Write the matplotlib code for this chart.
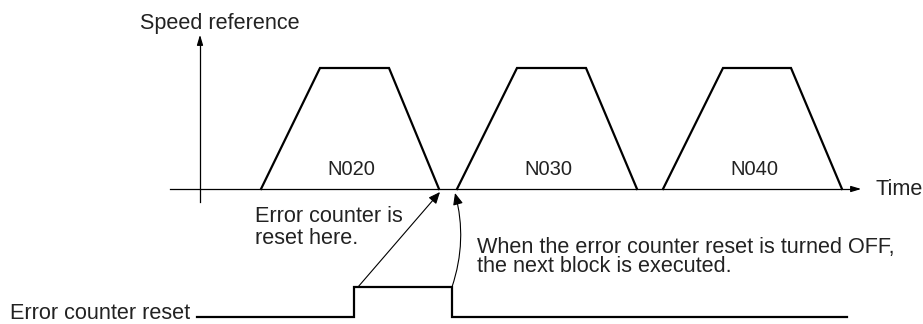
import matplotlib
matplotlib.use("Agg")
import matplotlib.pyplot as plt
from matplotlib.patches import FancyArrowPatch

plt.rcParams['font.family'] = ['Liberation Sans', 'DejaVu Sans']

# Speed profile (time in diagram units, speed as normalized level)
time_pts = [261, 320, 389, 439, 457, 517, 586, 637, 663, 723, 791, 842]
speed_lvl = [0, 1, 1, 0, 0, 1, 1, 0, 0, 1, 1, 0]
block_labels = ['N020', 'N030', 'N040']

# Error counter reset signal
reset_t = [197, 354, 354, 452, 452, 847]
reset_lvl = [0, 0, 1, 1, 0, 0]

TXT = '#222222'
FS = 15.6
W, H = 923, 324
fig = plt.figure(figsize=(W / 100, H / 100), dpi=100)
ax = fig.add_axes([0, 0, 1, 1])
ax.set_xlim(0, W)
ax.set_ylim(H, 0)
ax.axis('off')

base = 189
top = 68
amp = base - top

# axes
ax.plot([170, 855], [base, base], color='black', lw=0.9)
ax.annotate('', xy=(864, base), xytext=(850, base),
            arrowprops=dict(arrowstyle='-|>,head_length=0.6,head_width=0.18', color='black', lw=0.9))
ax.plot([200, 200], [202, 45], color='black', lw=0.9)
ax.annotate('', xy=(200, 32), xytext=(200, 46),
            arrowprops=dict(arrowstyle='-|>,head_length=0.6,head_width=0.18', color='black', lw=0.9))
ax.text(140, 29, 'Speed reference', fontsize=FS, color=TXT, va='baseline', ha='left')
ax.text(875, 195, 'Time', fontsize=FS, color=TXT, va='baseline', ha='left')

# trapezoids
for i in range(3):
    ts = time_pts[4 * i:4 * i + 4]
    ls = speed_lvl[4 * i:4 * i + 4]
    ys = [base - l * amp for l in ls]
    ax.plot(ts, ys, color='black', lw=1.6, solid_joinstyle='miter')
    cx = (ts[1] + ts[2]) / 2
    ax.text(cx - 3, 175, block_labels[i], fontsize=14.5, color=TXT, ha='center', va='baseline')

# reset signal
sig_low = 317
sig_high = 287
ax.plot(reset_t, [sig_low - l * (sig_low - sig_high) for l in reset_lvl],
        color='black', lw=1.6, solid_joinstyle='miter')
ax.text(190, 319, 'Error counter reset', fontsize=FS, color=TXT, ha='right', va='baseline')

# arrows
a1 = FancyArrowPatch((358, 287), (440, 192), arrowstyle='-|>,head_length=7,head_width=3',
                     color='black', lw=0.8, shrinkA=0, shrinkB=0)
ax.add_patch(a1)
a2 = FancyArrowPatch((452, 287), (455, 193), connectionstyle='arc3,rad=0.15',
                     arrowstyle='-|>,head_length=7,head_width=3',
                     color='black', lw=0.8, shrinkA=0, shrinkB=0)
ax.add_patch(a2)

ax.text(255, 222, 'Error counter is', fontsize=FS, color=TXT, ha='left', va='baseline')
ax.text(255, 244, 'reset here.', fontsize=FS, color=TXT, ha='left', va='baseline')
ax.text(477, 253, 'When the error counter reset is turned OFF,', fontsize=FS, color=TXT,
        ha='left', va='baseline')
ax.text(477, 272, 'the next block is executed.', fontsize=FS, color=TXT,
        ha='left', va='baseline')

fig.savefig('out.png', dpi=100)
